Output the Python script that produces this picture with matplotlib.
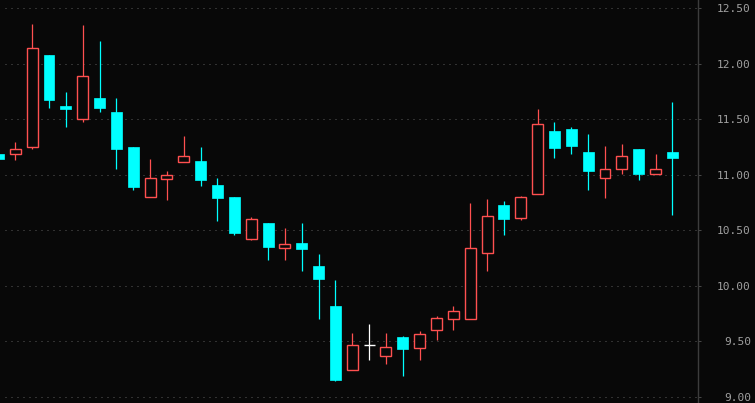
import numpy as np
import matplotlib.pyplot as plt

# daily OHLC (oldest first)
opens = [11.19, 11.19, 11.25, 12.08, 11.62, 11.50, 11.69, 11.56, 11.25, 10.80,
         10.96, 11.11, 11.12, 10.91, 10.80, 10.42, 10.57, 10.34, 10.39, 10.18,
         9.82, 9.24, 9.47, 9.37, 9.54, 9.44, 9.60, 9.70, 9.70, 10.30,
         10.73, 10.61, 10.83, 11.39, 11.41, 11.20, 10.97, 11.05, 11.23, 11.01,
         11.20]
highs = [11.20, 11.29, 12.36, 12.08, 11.74, 12.35, 12.20, 11.69, 11.25, 11.14,
         11.03, 11.35, 11.25, 10.97, 10.80, 10.62, 10.57, 10.52, 10.57, 10.29,
         10.05, 9.58, 9.66, 9.58, 9.55, 9.59, 9.73, 9.82, 10.75, 10.78,
         10.76, 10.81, 11.59, 11.47, 11.43, 11.37, 11.26, 11.28, 11.23, 11.19,
         11.65]
lows = [11.13, 11.13, 11.23, 11.60, 11.43, 11.47, 11.56, 11.05, 10.86, 10.80,
        10.77, 11.11, 10.90, 10.58, 10.46, 10.41, 10.23, 10.23, 10.13, 9.70,
        9.14, 9.24, 9.33, 9.30, 9.19, 9.33, 9.51, 9.60, 9.70, 10.13,
        10.46, 10.59, 10.83, 11.15, 11.19, 10.86, 10.79, 11.01, 10.95, 11.01,
        10.64]
closes = [11.14, 11.23, 12.14, 11.67, 11.59, 11.89, 11.60, 11.23, 10.89, 10.97,
          11.00, 11.17, 10.95, 10.79, 10.48, 10.60, 10.35, 10.38, 10.33, 10.06,
          9.15, 9.47, 9.47, 9.45, 9.43, 9.57, 9.71, 9.77, 10.34, 10.63,
          10.60, 10.80, 11.46, 11.24, 11.26, 11.03, 11.05, 11.17, 11.01, 11.05,
          11.15]
price_ticks = [9.0, 9.5, 10.0, 10.5, 11.0, 11.5, 12.0, 12.5]

bg = '#080808'
up_col = '#ff5050'
down_col = '#00ffff'
flat_col = '#ffffff'
width = 0.65

fig = plt.figure(figsize=(7.55, 4.03), dpi=100, facecolor=bg)
ax = fig.add_axes([0, 0, 698 / 755, 1])
ax.set_facecolor(bg)

x = np.arange(len(opens))
for i in x:
    o, h, l, c = opens[i], highs[i], lows[i], closes[i]
    if c > o:
        col = up_col
    elif c < o:
        col = down_col
    else:
        col = flat_col
    ax.vlines(i, l, h, color=col, lw=0.9, zorder=2)
    if c == o:
        ax.hlines(o, i - width / 2, i + width / 2, color=col, lw=1.0, zorder=3)
    elif c > o:
        ax.bar(i, c - o, width, bottom=o, facecolor=bg, edgecolor=col,
               lw=1.0, zorder=3)
    else:
        ax.bar(i, o - c, width, bottom=c, facecolor=col, edgecolor=col,
               lw=0.5, zorder=3)

ax.set_xlim(0.092, 41.52)
ax.set_ylim(8.946, 12.572)

for p in price_ticks:
    ax.axhline(p, color='#5a5a5a', lw=0.72, linestyle=(1, (1, 5)), zorder=1)

ax.yaxis.tick_right()
ax.set_yticks(price_ticks)
ax.set_yticklabels(['%.2f' % p for p in price_ticks])
ax.tick_params(axis='y', colors='#4a4a4a', length=2, width=0.7, pad=36,
               labelcolor='#a0a0a0', labelsize=8)
for lab in ax.get_yticklabels():
    lab.set_horizontalalignment('right')
    lab.set_family('DejaVu Sans Mono')
ax.set_xticks([])
for side in ['left', 'top', 'bottom']:
    ax.spines[side].set_visible(False)
ax.spines['right'].set_color('#3c3c3c')
ax.spines['right'].set_linewidth(1.0)

fig.savefig('out.png', dpi=100, facecolor=bg)
